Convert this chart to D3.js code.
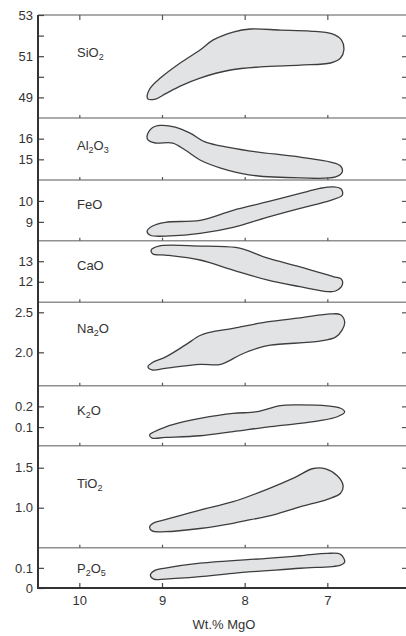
<!DOCTYPE html>
<meta charset="utf-8">
<style>
body { margin: 0; background: #fff; }
svg text { font-family: "Liberation Sans", Arial, sans-serif; fill: #333; }
</style>
<body>
<script src="https://d3js.org/d3.v7.min.js"></script>
<script>

var width = 406,
    height = 636;

// x axis (Wt.% MgO, reversed)
var mgoTicks = [10, 9, 8, 7, 6];

// envelopes, [MgO, oxide]
var sio2 = [[9.18,49.02],[9.14,49.46],[9.02,49.94],[8.78,50.67],[8.54,51.30],[8.38,51.79],[8.14,52.17],[7.93,52.32],
  [7.57,52.27],[7.21,52.22],[6.94,52.08],[6.83,51.79],[6.80,51.30],[6.84,50.91],[6.96,50.67],[7.33,50.57],
  [7.81,50.48],[8.17,50.33],[8.54,49.94],[8.78,49.55],[8.96,49.17],[9.08,48.92],[9.17,48.92]];
var al2o3 = [[9.18,16.13],[9.12,16.52],[9.02,16.64],[8.84,16.56],[8.66,16.27],[8.48,15.84],[8.29,15.65],[7.93,15.40],
  [7.33,15.11],[6.96,14.87],[6.84,14.68],[6.82,14.39],[6.90,14.15],[7.33,14.10],[7.93,14.24],[8.29,14.58],
  [8.54,14.97],[8.72,15.45],[8.87,15.79],[9.08,15.79],[9.17,15.94]];
var feo = [[9.18,8.55],[9.12,8.79],[8.96,8.98],[8.54,9.07],[8.14,9.55],[7.73,9.95],[7.33,10.36],[7.09,10.60],
  [6.92,10.67],[6.83,10.56],[6.82,10.27],[6.96,10.03],[7.33,9.65],[7.73,9.22],[8.14,8.74],[8.54,8.45],
  [8.90,8.33],[9.14,8.36]];
var cao = [[9.13,13.55],[9.04,13.74],[8.54,13.74],[8.11,13.67],[7.99,13.55],[7.73,13.16],[7.33,12.73],[6.93,12.25],
  [6.83,12.13],[6.82,11.84],[6.90,11.55],[7.00,11.52],[7.33,11.76],[7.73,12.09],[8.14,12.57],[8.54,13.06],
  [8.96,13.30],[9.11,13.35]];
var na2o = [[9.17,1.82],[9.12,1.87],[8.96,1.94],[8.72,2.09],[8.54,2.21],[8.42,2.25],[8.14,2.30],[7.73,2.38],
  [7.33,2.43],[6.96,2.48],[6.84,2.47],[6.79,2.38],[6.82,2.28],[6.90,2.19],[7.09,2.14],[7.69,2.09],
  [7.85,2.05],[8.05,1.97],[8.29,1.85],[8.54,1.85],[8.96,1.80],[9.12,1.78]];
var k2o = [[9.15,0.062],[9.10,0.076],[8.96,0.100],[8.72,0.127],[8.54,0.142],[8.14,0.166],[7.87,0.173],[7.73,0.187],
  [7.57,0.204],[7.33,0.207],[7.00,0.202],[6.84,0.191],[6.79,0.173],[6.88,0.150],[7.09,0.131],[7.33,0.118],
  [7.73,0.100],[8.14,0.078],[8.54,0.058],[8.96,0.050],[9.12,0.047]];
var tio2 = [[9.15,0.755],[9.10,0.81],[8.96,0.85],[8.54,0.97],[8.14,1.075],[7.73,1.23],[7.39,1.38],[7.17,1.49],
  [7.02,1.485],[6.88,1.40],[6.81,1.28],[6.84,1.18],[7.00,1.105],[7.33,1.01],[7.65,0.91],[7.93,0.85],
  [8.14,0.805],[8.54,0.74],[8.96,0.70],[9.12,0.71]];
var p2o5 = [[9.14,0.065],[9.08,0.089],[8.96,0.099],[8.54,0.123],[7.73,0.147],[7.33,0.160],[7.00,0.172],[6.84,0.167],
  [6.79,0.130],[6.84,0.114],[7.33,0.098],[8.14,0.073],[8.54,0.056],[8.96,0.044],[9.10,0.044]];

// y tick values per panel
var sio2Ticks = [49, 50, 51, 52, 53], sio2Labels = [49, 51, 53];
var al2o3Ticks = [15, 16];
var feoTicks = [9, 10];
var caoTicks = [12, 13];
var na2oTicks = [2.0, 2.5];
var k2oTicks = [0.1, 0.2];
var tio2Ticks = [1.0, 1.5];
var p2o5Ticks = [0, 0.1];

var f1 = d3.format(".1f");

// panel layout (pixel bands)
var panels = [
  {name: "SiO2",  data: sio2,  domain: [48, 53],     y0: 15,    y1: 118,   ticks: sio2Ticks, fmt: function(d) { return sio2Labels.indexOf(d) < 0 ? "" : d; }, ly: 42},
  {name: "Al2O3", data: al2o3, domain: [14, 17],     y0: 118,   y1: 180,   ticks: al2o3Ticks, fmt: String, ly: 32},
  {name: "FeO",   data: feo,   domain: [8.1, 11],    y0: 180,   y1: 240.7, ticks: feoTicks, fmt: String, ly: 29},
  {name: "CaO",   data: cao,   domain: [11, 14],     y0: 240.7, y1: 302.3, ticks: caoTicks, fmt: String, ly: 29},
  {name: "Na2O",  data: na2o,  domain: [1.583, 2.625], y0: 302.3, y1: 385.7, ticks: na2oTicks, fmt: f1, ly: 31},
  {name: "K2O",   data: k2o,   domain: [0.01, 0.3],  y0: 385.7, y1: 445.7, ticks: k2oTicks, fmt: f1, ly: 29},
  {name: "TiO2",  data: tio2,  domain: [0.5, 1.775], y0: 445.7, y1: 547.7, ticks: tio2Ticks, fmt: f1, ly: 42},
  {name: "P2O5",  data: p2o5,  domain: [0, 0.2],     y0: 547.7, y1: 588,   ticks: p2o5Ticks, fmt: function(d) { return d === 0 ? "0" : f1(d); }, ly: 25}
];

var left = 38, right = 410, bottom = 588;

var svg = d3.select("body").append("svg")
    .attr("width", width)
    .attr("height", height);

var x = d3.scaleLinear()
    .domain([10.5, 6])
    .range([left, right]);

function formula(sel, f) {
  var parts = f.match(/[A-Za-z]+|\d+/g), shift = 0;
  parts.forEach(function(p) {
    var sub = /\d/.test(p);
    sel.append("tspan").text(p)
      .attr("font-size", sub ? 9 : null)
      .attr("dy", (sub ? 3 : 0) - shift);
    shift = sub ? 3 : 0;
  });
}

panels.forEach(function(p, i) {
  var y = d3.scaleLinear().domain(p.domain).range([p.y1, p.y0]);
  var g = svg.append("g");

  // envelope
  g.append("path")
    .datum(p.data)
    .attr("d", d3.line()
      .x(function(d) { return x(d[0]); })
      .y(function(d) { return y(d[1]); })
      .curve(d3.curveCatmullRomClosed.alpha(0.5)))
    .attr("fill", "#e2e3e5")
    .attr("stroke", "#3d3d3d")
    .attr("stroke-width", 1.3);

  // top border of the panel
  g.append("line")
    .attr("x1", left).attr("x2", width)
    .attr("y1", p.y0).attr("y2", p.y0)
    .attr("stroke", "#8f8f8f")
    .attr("stroke-width", 1.6);

  // x ticks crossing the border
  var xt = g.append("g").attr("transform", "translate(0," + p.y0 + ")")
    .call(d3.axisBottom(x).tickValues(mgoTicks.slice(0, 4)).tickSize(5).tickFormat(""));
  if (i > 0) xt.call(d3.axisTop(x).tickValues(mgoTicks.slice(0, 4)).tickSize(3).tickFormat(""));
  xt.selectAll(".domain").remove();
  xt.selectAll("line").attr("stroke", "#555").attr("stroke-width", 1.2);

  // left axis, ticks inward
  var ly = g.append("g").attr("transform", "translate(" + left + ",0)")
    .call(d3.axisLeft(y).tickValues(p.ticks).tickSize(-6).tickPadding(5).tickFormat(p.fmt));
  ly.select(".domain").remove();
  ly.selectAll("line").attr("stroke", "#444").attr("stroke-width", 1.2);
  ly.selectAll("text").attr("font-size", 13).attr("fill", "#333")
    .attr("font-family", "Liberation Sans, Arial, sans-serif");

  // right axis ticks, no labels
  var ry = g.append("g").attr("transform", "translate(" + right + ",0)")
    .call(d3.axisLeft(y).tickValues(p.ticks.filter(function(d) { return y(d) < p.y1 - 2 && y(d) > p.y0 + 2; }))
      .tickSize(8).tickFormat(""));
  ry.select(".domain").remove();
  ry.selectAll("line").attr("stroke", "#555").attr("stroke-width", 1.2);

  // oxide label
  g.append("text")
    .attr("x", 77)
    .attr("y", p.y0 + p.ly)
    .attr("font-size", 13)
    .call(formula, p.name);
});

// bottom axis
var xa = svg.append("g").attr("transform", "translate(0," + bottom + ")")
  .call(d3.axisBottom(x).tickValues(mgoTicks).tickSize(-5).tickPadding(8).tickFormat(d3.format("d")));
xa.select(".domain").remove();
xa.selectAll("line").attr("stroke", "#444").attr("stroke-width", 1.2);
xa.selectAll("text").attr("font-size", 13).attr("fill", "#333")
  .attr("font-family", "Liberation Sans, Arial, sans-serif");

// frame lines
svg.append("line")
  .attr("x1", left).attr("x2", width)
  .attr("y1", bottom).attr("y2", bottom)
  .attr("stroke", "#333").attr("stroke-width", 2);
svg.append("line")
  .attr("x1", left).attr("x2", left)
  .attr("y1", 15).attr("y2", bottom + 1)
  .attr("stroke", "#333").attr("stroke-width", 2);

svg.append("text")
  .attr("x", (left + right) / 2)
  .attr("y", 629)
  .attr("text-anchor", "middle")
  .attr("font-size", 13)
  .text("Wt.% MgO");

</script>
</body>
